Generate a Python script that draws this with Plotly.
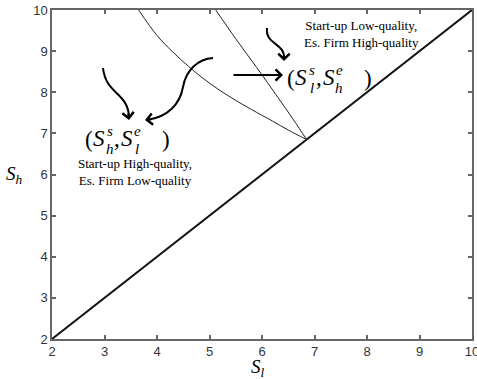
import plotly.graph_objects as go

# Axis extents and ticks
x_range = [2, 10]
y_range = [2, 10]
tick_vals = [2, 3, 4, 5, 6, 7, 8, 9, 10]

# 45-degree line S_h = S_l
diag_x = [2, 10]
diag_y = [2, 10]

# Outer boundary curve
outer_x = [3.65, 4.0, 4.3, 4.6, 5.0, 5.4, 5.8, 6.2, 6.5, 6.85]
outer_y = [10.0, 9.38, 8.98, 8.63, 8.22, 7.88, 7.58, 7.30, 7.08, 6.85]

# Inner boundary curve
inner_x = [5.12, 5.5, 5.9, 6.3, 6.6, 6.85]
inner_y = [10.0, 9.3, 8.6, 7.88, 7.33, 6.85]

W, H = 477, 379
M_L, M_R, M_T, M_B = 52, 5, 10, 40
PW, PH = W - M_L - M_R, H - M_T - M_B


def P(px, py):
    """Pixel position on the page -> data coordinates."""
    x = x_range[0] + (px - M_L) / PW * (x_range[1] - x_range[0])
    y = y_range[1] - (py - M_T) / PH * (y_range[1] - y_range[0])
    return x, y


fig = go.Figure()
fig.add_trace(go.Scatter(x=diag_x, y=diag_y, mode="lines",
                         line=dict(color="#111111", width=2), hoverinfo="skip"))
fig.add_trace(go.Scatter(x=outer_x, y=outer_y, mode="lines",
                         line=dict(color="#222222", width=1, shape="spline"), hoverinfo="skip"))
fig.add_trace(go.Scatter(x=inner_x, y=inner_y, mode="lines",
                         line=dict(color="#222222", width=1, shape="spline"), hoverinfo="skip"))

axis_common = dict(
    tickvals=tick_vals, ticks="inside", ticklen=4, tickwidth=1.5,
    tickcolor="#666666", showline=True, linecolor="#666666", linewidth=1.5,
    mirror="ticks", showgrid=False, zeroline=False,
    tickfont=dict(family="Liberation Sans", size=13, color="#333333"),
    ticklabeloverflow="allow", automargin=False,
)
fig.update_xaxes(**{**axis_common, "range": x_range})
fig.update_yaxes(**{**axis_common, "range": y_range})

annotations = []
SERIF = "Liberation Serif"


def txt(px, py, text, size, italic=False, anchor="center"):
    x, y = P(px, py)
    t = f"<i>{text}</i>" if italic else text
    annotations.append(dict(x=x, y=y, xref="x", yref="y", text=t, showarrow=False,
                            xanchor=anchor, yanchor="middle",
                            font=dict(family=SERIF, size=size, color="black")))


def math_pair(ox, oy, sub1, sub2):
    # (S_{sub1}^{s}, S_{sub2}^{e}) built glyph by glyph so the scripts stack
    txt(ox + 88.5, oy + 139, "(", 23)
    txt(ox + 99, oy + 138, "S", 23, True)
    txt(ox + 110, oy + 131, "s", 15, True)
    txt(ox + 110, oy + 149, sub1, 15, True)
    txt(ox + 116.5, oy + 138, ",", 23)
    txt(ox + 127, oy + 138, "S", 23, True)
    txt(ox + 137, oy + 131, "e", 15, True)
    txt(ox + 137, oy + 149, sub2, 15, True)
    txt(ox + 166, oy + 139, ")", 23)


math_pair(0, 0, "h", "l")
math_pair(202, -61, "l", "h")

# Region descriptions
for (px, py, s) in [(135, 172, "Start-up High-quality,<br>Es. Firm Low-quality"),
                    (361, 34, "Start-up Low-quality,<br>Es. Firm High-quality")]:
    x, y = P(px, py)
    annotations.append(dict(x=x, y=y, xref="x", yref="y", text=s, showarrow=False,
                            xanchor="center", yanchor="middle", align="center",
                            font=dict(family=SERIF, size=13, color="black")))

# Axis labels
for (px, py, s) in [(14, 175, "<i>S<sub>h</sub></i>"), (258, 368, "<i>S<sub>l</sub></i>")]:
    annotations.append(dict(x=(px - M_L) / PW, y=1 - (py - M_T) / PH, xref="paper", yref="paper",
                            text=s, showarrow=False, xanchor="center", yanchor="middle",
                            font=dict(family=SERIF, size=19, color="black")))

# Straight arrow pointing at the right label
hx, hy = P(283, 75)
annotations.append(dict(x=hx, y=hy, xref="x", yref="y", ax=-51, ay=0, text="",
                        showarrow=True, arrowhead=4, arrowsize=1.1, arrowwidth=2,
                        arrowcolor="black"))

# Curved arrows: bodies as Bezier paths, heads as short annotation arrows
shapes = []


def curve(points):
    pts = [P(*p) for p in points]
    d = "M {:.4f},{:.4f} C {:.4f},{:.4f} {:.4f},{:.4f} {:.4f},{:.4f}".format(
        *pts[0], *pts[1], *pts[2], *pts[3])
    if len(pts) > 4:
        d += " C {:.4f},{:.4f} {:.4f},{:.4f} {:.4f},{:.4f}".format(*pts[4], *pts[5], *pts[6])
    shapes.append(dict(type="path", path=d, xref="x", yref="y",
                       line=dict(color="black", width=2)))


def head(px, py, ax, ay):
    x, y = P(px, py)
    annotations.append(dict(x=x, y=y, xref="x", yref="y", ax=ax, ay=ay, text="",
                            showarrow=True, arrowhead=4, arrowsize=1.1, arrowwidth=2,
                            arrowcolor="black"))


# Left arrow into (S_h^s, S_l^e)
curve([(103, 68), (106, 95), (128, 92), (129, 117)])
head(129, 120, -1, -8)

# S-shaped arrow into (S_h^s, S_l^e)
curve([(213, 58), (198, 59), (186, 70), (183, 87),
       (180, 104), (168, 117), (147, 120)])
head(145, 120, 8, -1)

# Small arrow into (S_l^s, S_h^e)
curve([(267, 28), (265, 45), (285, 43), (284, 58)])
head(284, 61, 0, -8)

fig.update_layout(
    width=W, height=H, margin=dict(l=M_L, r=M_R, t=M_T, b=M_B),
    paper_bgcolor="white", plot_bgcolor="white", showlegend=False,
    annotations=annotations, shapes=shapes,
)
fig.write_html("out.html")
